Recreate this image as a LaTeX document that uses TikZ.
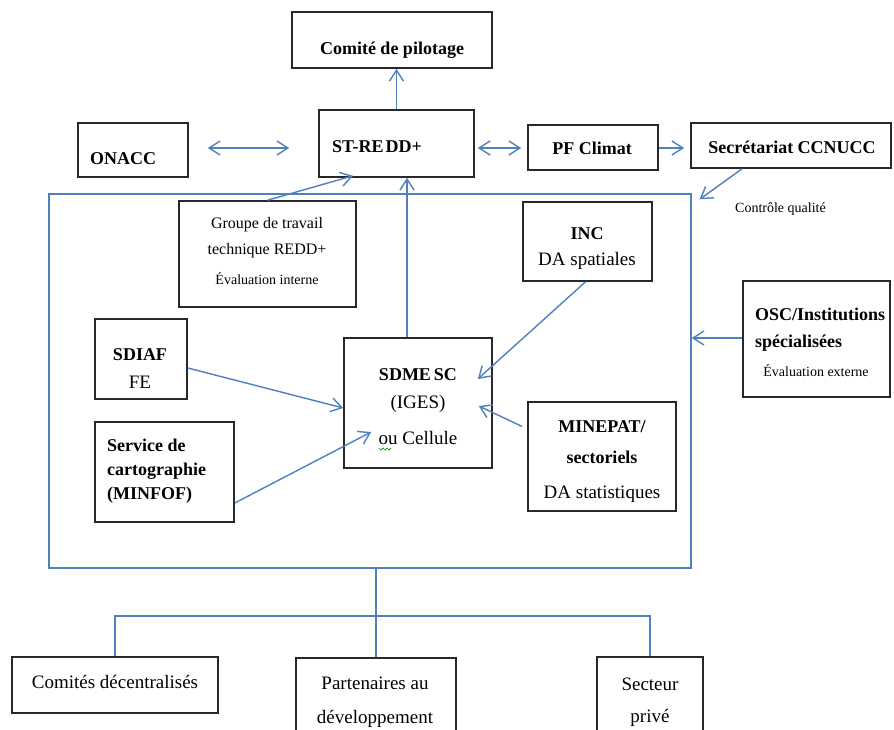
\documentclass[tikz,border=0pt]{standalone}
\usepackage{fontspec}
\setmainfont{Liberation Serif}
\usetikzlibrary{arrows.meta}
\definecolor{lblue}{RGB}{79,129,189}
\definecolor{boxc}{RGB}{40,40,40}
\tikzset{
  box/.style={draw=boxc, line width=1.6pt, inner sep=0pt},
  bigbox/.style={draw=lblue, line width=1.4pt, inner sep=0pt},
  conn/.style={draw=lblue, line width=1.4pt},
  arr/.style={conn, -{Straight Barb[length=11pt,width=14pt,line width=1.4pt]}},
  darr/.style={conn, {Straight Barb[length=11pt,width=14pt,line width=1.4pt]}-{Straight Barb[length=11pt,width=14pt,line width=1.4pt]}},
  tb/.style={font=\fontsize{18}{20}\selectfont\bfseries, inner sep=0pt, anchor=base},
  tr/.style={font=\fontsize{19}{21}\selectfont, inner sep=0pt, anchor=base},
  tm/.style={font=\fontsize{16}{18}\selectfont, inner sep=0pt, anchor=base},
  ts/.style={font=\fontsize{14}{16}\selectfont, inner sep=0pt, anchor=base},
}
\begin{document}
\begin{tikzpicture}[x=1pt,y=-1pt]
\clip (0,0) rectangle (894,729);
\fill[white] (0,0) rectangle (894,729);
% boxes
\node[box, minimum width=200pt, minimum height=56pt] (comite) at (392,40) {};
\node[box, minimum width=110pt, minimum height=54pt] (onacc) at (133,150) {};
\node[box, minimum width=155pt, minimum height=67pt] (st) at (396.5,143.5) {};
\node[box, minimum width=130pt, minimum height=45pt] (pf) at (593,147.5) {};
\node[box, minimum width=200pt, minimum height=45pt] (sec) at (791,145.5) {};
\node[bigbox, minimum width=642pt, minimum height=374pt] (big) at (370,381) {};
\node[box, minimum width=177pt, minimum height=106pt] (groupe) at (267.5,254) {};
\node[box, minimum width=129pt, minimum height=79pt] (inc) at (587.5,241.5) {};
\node[box, minimum width=92pt, minimum height=80pt] (sdiaf) at (141,359) {};
\node[box, minimum width=139pt, minimum height=100pt] (service) at (164.5,472) {};
\node[box, minimum width=148pt, minimum height=130pt] (sdme) at (418,403) {};
\node[box, minimum width=148pt, minimum height=109pt] (minepat) at (602,456.5) {};
\node[box, minimum width=147pt, minimum height=116pt] (osc) at (816.5,339) {};
\node[box, minimum width=206pt, minimum height=56pt] (comites) at (115,685) {};
\node[box, minimum width=160pt, minimum height=90pt] (part) at (376,703) {};
\node[box, minimum width=106pt, minimum height=90pt] (secteur) at (650,702) {};
% texts
\node[tb] (t1) at (392,54) {Comité de pilotage};
\node[tb, anchor=base west] (t2) at (90,164) {ONACC};
\node[tb, anchor=base west] (t3) at (332,152) {ST-RE\kern2pt DD+};
\node[tb] (t4) at (592,154) {PF Climat};
\node[tb] (t5) at (792,153) {Secrétariat CCNUCC};
\node[ts, anchor=base west] (t6) at (735,212) {Contrôle qualité};
\node[tb] (t7) at (587,239) {INC};
\node[tr] (t8) at (587,265) {DA spatiales};
\node[tm] (t9) at (267,228) {Groupe de travail};
\node[tm] (t10) at (267,254) {technique REDD+};
\node[ts] (t11) at (267,284) {Évaluation interne};
\node[tb] (t12) at (140,360) {SDIAF};
\node[tr] (t13) at (140,388) {FE};
\node[tb, anchor=base west] (t14) at (107,451) {Service de};
\node[tb, anchor=base west] (t15) at (107,475) {cartographie};
\node[tb, anchor=base west] (t16) at (107,499) {(MINFOF)};
\node[tb] (t17) at (418,380) {SDME\kern3pt SC};
\node[tr] (t18) at (418,408) {(IGES)};
\node[tr] (t19) at (418,444) {ou Cellule};
\node[tb] (t20) at (602,432) {MINEPAT/};
\node[tb] (t21) at (602,463) {sectoriels};
\node[tr] (t22) at (602,498) {DA statistiques};
\node[tb, anchor=base west] (t23) at (755,320) {OSC/Institutions};
\node[tb, anchor=base west] (t24) at (755,347) {spécialisées};
\node[ts] (t25) at (816,376) {Évaluation externe};
\node[tr] (t26) at (115,688) {Comités décentralisés};
\node[tr] (t27) at (375,689) {Partenaires au};
\node[tr] (t28) at (375,723) {développement};
\node[tr] (t29) at (650,690) {Secteur};
\node[tr] (t30) at (650,722) {privé};
% spell-check squiggle
\draw[green!55!black, line width=0.7pt] (379,448) -- (381,450) -- (383,448) -- (385,450) -- (387,448) -- (389,450) -- (391,448);
% connectors
\draw[arr] (st.north) -- (st.north |- comite.south);
\draw[darr, shorten <=19pt, shorten >=29pt] ([yshift=2pt]onacc.east) -- ([yshift=2pt]onacc.east -| st.west);
\draw[darr, shorten <=3pt, shorten >=6pt] ([yshift=-4.5pt]st.east) -- ([yshift=-4.5pt]st.east -| pf.west);
\draw[arr, shorten >=6pt] ([yshift=-0.5pt]pf.east) -- ([yshift=-0.5pt]pf.east -| sec.west);
\draw[arr] ([xshift=-49pt]sec.south) -- ([xshift=8pt,yshift=-6pt]big.north east);
\draw[arr] (groupe.north) -- ([xshift=-43.5pt,yshift=2pt]st.south);
\draw[arr] ([xshift=-11pt]sdme.north) -- ([xshift=-11pt]sdme.north |- st.south);
\draw[arr] ([yshift=-9pt]sdiaf.east) -- ([yshift=-5pt]sdme.west);
\draw[arr] ([yshift=-31pt]service.east) -- ([xshift=28pt,yshift=-29pt]sdme.west);
\draw[arr] ([xshift=-2pt]inc.south) -- ([xshift=-15pt,yshift=24pt]sdme.east);
\draw[arr] ([xshift=-5pt,yshift=30pt]minepat.west) -- ([xshift=-14pt,yshift=-3pt]sdme.east);
\draw[arr] ([yshift=1pt]osc.west) -- ([yshift=1pt]osc.west -| big.east);
\coordinate (bus) at (0,616);
\draw[conn] (part.north |- big.south) -- (part.north);
\draw[conn] (comites.north) -- (comites.north |- bus) -- (secteur.north |- bus) -- (secteur.north);
\end{tikzpicture}
\end{document}
